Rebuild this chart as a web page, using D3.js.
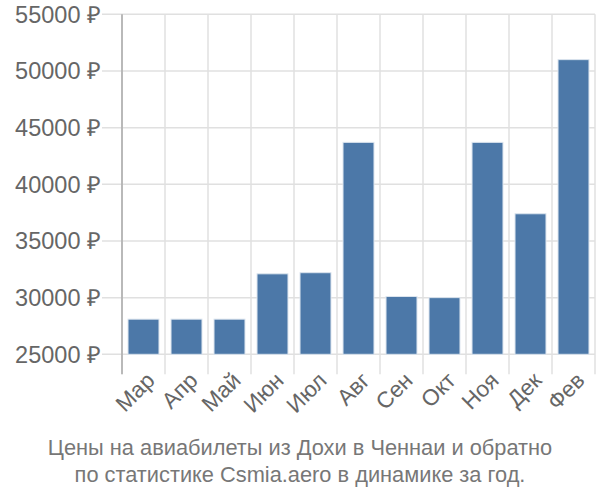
<!DOCTYPE html>
<html><head><meta charset="utf-8">
<script src="https://cdn.jsdelivr.net/npm/d3@7"></script>
<style>body{margin:0;background:#fff}svg{display:block}text{font-family:"Liberation Sans",Arial,sans-serif}</style>
</head><body>
<script>
const months = ["Мар","Апр","Май","Июн","Июл","Авг","Сен","Окт","Ноя","Дек","Фев"];
const prices = [28100,28100,28100,32100,32200,43700,30100,30000,43700,37400,51000];
const yTicks = [25000,30000,35000,40000,45000,50000,55000];
const titleLines = ["Цены на авиабилеты из Дохи в Ченнаи и обратно","по статистике Csmia.aero в динамике за год."];

const W=600,H=500, mLeft=122, mRight=595, mTop=14.3, mBottom=354.3;
const svg=d3.select("body").append("svg").attr("width",W).attr("height",H);
const x=d3.scaleBand().domain(months).range([mLeft,mRight]).paddingInner(0.28).paddingOuter(0.14);
const y=d3.scaleLinear().domain([25000,55000]).range([mBottom,mTop]);
const step=(mRight-mLeft)/months.length;

// horizontal grid + tick marks
svg.append("g").selectAll("line").data(yTicks).join("line")
  .attr("x1",mLeft-20).attr("x2",mRight).attr("y1",d=>y(d)).attr("y2",d=>y(d))
  .attr("stroke","#e0e0e0").attr("stroke-width",1.5);
// vertical grid lines
const vx=d3.range(months.length+1).map(i=>mLeft+i*step);
svg.append("g").selectAll("line").data(vx).join("line")
  .attr("x1",d=>d).attr("x2",d=>d).attr("y1",mTop).attr("y2",mBottom+20)
  .attr("stroke","#e0e0e0").attr("stroke-width",1.5);
// y axis line
svg.append("line").attr("x1",mLeft).attr("x2",mLeft).attr("y1",mTop).attr("y2",mBottom+20)
  .attr("stroke","#aaa").attr("stroke-width",1.5);
// bars
svg.append("g").selectAll("rect").data(prices).join("rect")
  .attr("x",(d,i)=>x(months[i])).attr("width",x.bandwidth())
  .attr("y",d=>y(d)).attr("height",d=>mBottom-y(d))
  .attr("fill","#4c78a8").attr("stroke","#dbe4ee").attr("stroke-width",1);
// y labels
svg.append("g").selectAll("text").data(yTicks).join("text")
  .attr("x",mLeft-21).attr("y",d=>y(d)).attr("dy","0.35em").attr("text-anchor","end")
  .attr("font-size",23.5).attr("fill","#666").text(d=>d+" ₽");
// x labels
svg.append("g").selectAll("text").data(months).join("text")
  .attr("transform",d=>`translate(${x(d)+x.bandwidth()/2+7},${mBottom+22}) rotate(-45)`)
  .attr("text-anchor","end").attr("dy","0.35em")
  .attr("font-size",22.5).attr("fill","#666").text(d=>d);
// title
svg.append("g").selectAll("text").data(titleLines).join("text")
  .attr("x",W/2).attr("y",(d,i)=>455+i*27).attr("text-anchor","middle")
  .attr("font-size",21.8).attr("fill","#777").text(d=>d);
</script>
</body></html>
